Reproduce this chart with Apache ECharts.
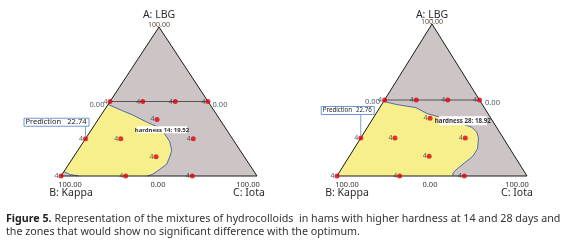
<!DOCTYPE html>
<html><head><meta charset="utf-8">
<script src="https://cdn.jsdelivr.net/npm/echarts@6/dist/echarts.min.js"></script>
<style>html,body{margin:0;padding:0;background:#fff}#c{width:564px;height:241px}</style>
</head><body><div id="c"></div>
<script>
// ternary compositions [A: LBG, B: Kappa, C: Iota] in %
const designPoints = [
  [50,50,0],[50,33.3,16.7],[50,16.7,33.3],[50,0,50],
  [38,32,30],[25,57,18],[25,20,55],[13,45,42],
  [25,75,0],[0,100,0],[0,67,33],[0,33,67]
];
const replicateLabels = ['4','4','4','4','4','4','4','4','4','4','4','4'];
const triangleVertices = [[100,0,0],[0,100,0],[0,0,100]];
const constraintLine = [[50,50,0],[50,0,50]];
const boundary14 = [
  [48,52,0],[44,47,9],[41,43,16],[36,38,26],[32,33,35],[27,33,40],[23,33,44],
  [17,35,48],[13,38,49],[8,42,50],[4,48,48],[1,53,46],[0,56,44]
];
const cornerCurve14 = [[0,91,9],[1,95,4],[3,97,0]];
const boundary28 = [
  [49,51,0],[47,45,8],[45,36,19],[41,32,27],[39,27,34],[36,20,44],[32,13,55],
  [29,12,59],[25,13,62],[18,17,65],[13,22,65],[9,28,63],[5,34,61],[2,38,60],[0,39,61]
];
const componentNames = ['A: LBG','B: Kappa','C: Iota'];
const tickLabels = {apex:'100.00', lineEnds:'0.00', baseEnds:'100.00', baseMid:'0.00'};
const predictionValues = ['22.74','22.76'];
const hardnessLabels = ['hardness 14: 19.52','hardness 28: 18.92'];
const captionBold = 'Figure 5.';
const captionLine1 = ' Representation of the mixtures of hydrocolloids  in hams with higher hardness at 14 and 28 days and';
const captionLine2 = 'the zones that would show no significant difference with the optimum.';

function tern(p){ const s=p[0]+p[1]+p[2]; const A=p[0]/s, C=p[2]/s; return [C + A/2, A]; }

const GREY='#cdc5c5', YELLOW='#f7ef8c', BLUE='#2f4f9f', FONT='"Noto Sans", "Open Sans", sans-serif';

function poly(g, pts, style, z, closed){
  return {type:'custom', xAxisIndex:g, yAxisIndex:g, z:z, silent:true, clip:false,
    data:[[0,0]],
    renderItem:(params, api)=>({type: closed ? 'polygon' : 'polyline',
      shape:{points: pts.map(p=>api.coord(tern(p)))}, style: style})};
}

const yellow14 = boundary14.concat(cornerCurve14);
const yellow28 = boundary28.concat([[0,100,0]]);

function chartSeries(g, yellowPts, curves){
  const s = [
    poly(g, triangleVertices, {fill:GREY, stroke:null}, 1, true),
    poly(g, yellowPts, {fill:YELLOW, stroke:null}, 2, true)
  ];
  curves.forEach(c=>s.push(poly(g, c, {fill:null, stroke:BLUE, lineWidth:0.8}, 3, false)));
  s.push(poly(g, triangleVertices, {fill:null, stroke:'#1a1a1a', lineWidth:1}, 4, true));
  s.push(poly(g, constraintLine, {fill:null, stroke:'#555', lineWidth:1}, 4, false));
  s.push({type:'scatter', xAxisIndex:g, yAxisIndex:g, z:6, silent:true,
    data: designPoints.map(tern), symbolSize:5,
    itemStyle:{color:'#e00010'},
    label:{show:true, position:'left', distance:0, fontSize:7, color:'#1c3838', fontFamily:FONT,
      formatter:(p)=>replicateLabels[p.dataIndex]}});
  return s;
}

const axisCommon = {type:'value', min:0, max:1, show:false};
const option = {
  backgroundColor:'#fff',
  animation:false,
  grid:[{left:61, top:27, width:196, height:149},{left:337, top:24, width:190, height:152}],
  xAxis:[Object.assign({gridIndex:0},axisCommon),Object.assign({gridIndex:1},axisCommon)],
  yAxis:[Object.assign({gridIndex:0},axisCommon),Object.assign({gridIndex:1},axisCommon)],
  series: chartSeries(0, yellow14, [boundary14, cornerCurve14]).concat(chartSeries(1, yellow28, [boundary28]))
};
const chart = echarts.init(document.getElementById('c'), null, {renderer:'canvas'});
chart.setOption(option);

function P(g, t){ return chart.convertToPixel({gridIndex:g}, tern(t)); }
function txt(x,y,text,size,opt){
  opt = opt||{};
  return {type:'text', x:x, y:y, z:100, silent:true, style:{text:text, fontSize:size, fontFamily:FONT,
    fontWeight:opt.bold?'bold':'normal', fill:opt.color||'#333',
    align:opt.align||'center', textAlign:opt.align||'center', verticalAlign:'middle', textVerticalAlign:'middle'}};
}
const layouts = [
  {apexName:[0,-12], apexTick:[0,-2], dash:false, lEnd:[-13,3], rEnd:[12,3], bTick:[9,9], bName:[10,17], mid:[-1,9], cTick:[-9,9], cName:[-8,17],
   pred:{dx0:-62, dx1:3, dy0:-21, dy1:-13, fs:7.5}, hard:{idx:4, dx0:-24, dx1:26, dy0:-2, dy1:5, fs:6}},
  {apexName:[0,-9], apexTick:[0,-2], dash:true, lEnd:[-12,2], rEnd:[13,3], bTick:[10,9], bName:[10,17], mid:[-2,9], cTick:[-10,9], cName:[-10,17],
   pred:{dx0:-40, dx1:13, dy0:-32, dy1:-24, fs:6.2}, hard:{idx:5, dx0:-16, dx1:32, dy0:-5, dy1:4, fs:6.2}}
];
const curvesFor = [boundary14, boundary28];
const graphics = [];
layouts.forEach((L,g)=>{
  const a=P(g,triangleVertices[0]), b=P(g,triangleVertices[1]), c=P(g,triangleVertices[2]);
  const l0=P(g,constraintLine[0]), l1=P(g,constraintLine[1]);
  const mid=P(g,[0,50,50]);
  graphics.push(txt(a[0]+L.apexName[0], a[1]+L.apexName[1], componentNames[0], 10.5, {color:'#2a2a2a'}));
  graphics.push(txt(a[0]+L.apexTick[0], a[1]+L.apexTick[1], tickLabels.apex, 7, {color:'#5a4a3a'}));
  if(L.dash) graphics.push(txt(a[0], a[1]-5, '-', 7, {color:'#333'}));
  graphics.push(txt(l0[0]+L.lEnd[0], l0[1]+L.lEnd[1], tickLabels.lineEnds, 7.5, {color:'#4a5a6a'}));
  graphics.push(txt(l1[0]+L.rEnd[0], l1[1]+L.rEnd[1], tickLabels.lineEnds, 7.5, {color:'#4a5a6a'}));
  graphics.push(txt(b[0]+L.bTick[0], b[1]+L.bTick[1], tickLabels.baseEnds, 7.5, {color:'#333'}));
  graphics.push(txt(b[0]+L.bName[0], b[1]+L.bName[1], componentNames[1], 10.5, {color:'#2a2a2a'}));
  graphics.push(txt(mid[0]+L.mid[0], mid[1]+L.mid[1], tickLabels.baseMid, 7.5, {color:'#333'}));
  graphics.push(txt(c[0]+L.cTick[0], c[1]+L.cTick[1], tickLabels.baseEnds, 7.5, {color:'#333'}));
  graphics.push(txt(c[0]+L.cName[0], c[1]+L.cName[1], componentNames[2], 10.5, {color:'#2a2a2a'}));
  // prediction flag anchored on the left-edge design point
  const pp=P(g,designPoints[8]); const pr=L.pred;
  graphics.push({type:'line', z:90, silent:true, shape:{x1:pp[0], y1:pp[1]+pr.dy1, x2:pp[0], y2:pp[1]-2}, style:{stroke:'#7f9fc8', lineWidth:1}});
  graphics.push({type:'rect', z:91, silent:true, shape:{x:pp[0]+pr.dx0+0.5, y:pp[1]+pr.dy0+0.5, width:pr.dx1-pr.dx0, height:pr.dy1-pr.dy0}, style:{fill:'#fff', stroke:'#6f99d6', lineWidth:1}});
  graphics.push(txt(pp[0]+pr.dx0+2, pp[1]+(pr.dy0+pr.dy1)/2+0.5, 'Prediction', pr.fs, {align:'left', color:'#222'}));
  graphics.push(txt(pp[0]+pr.dx1-2, pp[1]+(pr.dy0+pr.dy1)/2+0.5, predictionValues[g], pr.fs, {align:'right', color:'#222'}));
  // contour label
  const h=L.hard; const hp=P(g,curvesFor[g][h.idx]);
  graphics.push({type:'rect', z:91, silent:true, shape:{x:hp[0]+h.dx0, y:hp[1]+h.dy0, width:h.dx1-h.dx0, height:h.dy1-h.dy0}, style:{fill:'#fff', stroke:null}});
  graphics.push(txt(hp[0]+(h.dx0+h.dx1)/2, hp[1]+(h.dy0+h.dy1)/2, hardnessLabels[g], h.fs, {bold:true, color:'#333'}));
});
// caption
graphics.push({type:'text', x:6, y:219, z:100, silent:true, style:{text:'{b|'+captionBold+'}'+captionLine1,
  fontSize:10.7, fontFamily:FONT, fill:'#333', verticalAlign:'middle', textVerticalAlign:'middle',
  rich:{b:{fontWeight:'bold', fontSize:10.7, fontFamily:FONT, fill:'#222'}}}});
graphics.push({type:'text', x:6, y:232, z:100, silent:true, style:{text:captionLine2,
  fontSize:10.7, fontFamily:FONT, fill:'#333', verticalAlign:'middle', textVerticalAlign:'middle'}});
chart.setOption({graphic:{elements:graphics}});
</script></body></html>
